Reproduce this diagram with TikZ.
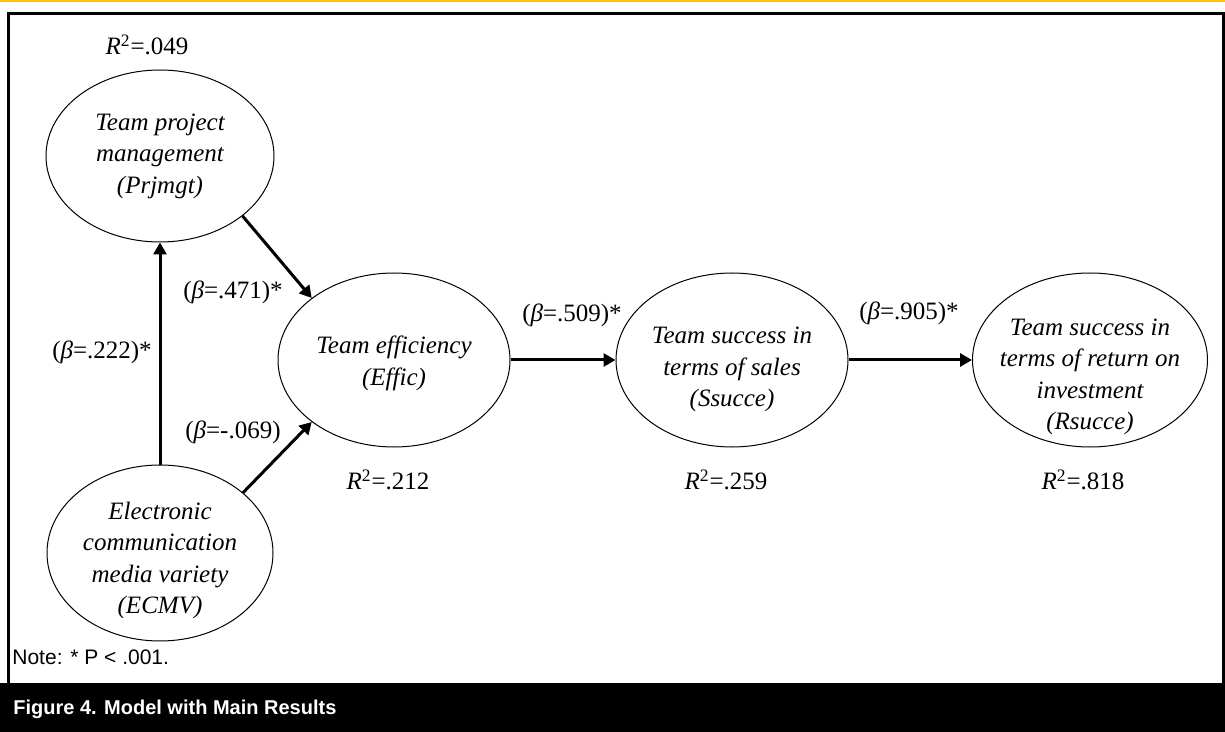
\documentclass[tikz,border=0pt]{standalone}
\usepackage{fontspec}
\setmainfont{Liberation Serif}
\setsansfont{Liberation Sans}
\usetikzlibrary{shapes.geometric,arrows.meta}
\definecolor{topline}{RGB}{255,196,0}
\begin{document}
\begin{tikzpicture}[x=0.5pt,y=-0.5pt,
  construct/.style={ellipse, draw, line width=0.5pt, inner sep=0pt, align=center, font=\fontsize{12.5}{15.75}\selectfont\itshape},
  coef/.style={font=\fontsize{12.5}{15}\selectfont, inner sep=0pt},
  path/.style={line width=1.5pt, -{Triangle[length=6pt,width=6.5pt]}}]
\useasboundingbox (0,0) rectangle (1225,732);
\fill[topline] (0,0) rectangle (1225,2);
\draw[line width=1.5pt] (8,14) rectangle (1223,690);
\fill[black] (0,683) rectangle (1225,732);
\node[construct, minimum width=114pt, minimum height=86pt] (prj) at (160,156) {Team project\\management\\(Prjmgt)};
\node[construct, minimum width=113pt, minimum height=88pt] (ecmv) at (160,553) {\raisebox{-6.5pt}[0pt][0pt]{\begin{tabular}{@{}c@{}}Electronic\\communication\\media variety\\(ECMV)\end{tabular}}};
\node[construct, minimum width=116pt, minimum height=87pt] (effic) at (394,360) {\raisebox{-4.5pt}[0pt][0pt]{\begin{tabular}{@{}c@{}}Team efficiency\\(Effic)\end{tabular}}};
\node[construct, minimum width=116pt, minimum height=87pt] (ssucc) at (732,360) {\raisebox{-7.5pt}[0pt][0pt]{\begin{tabular}{@{}c@{}}Team success in\\terms of sales\\(Ssucce)\end{tabular}}};
\node[construct, minimum width=117.5pt, minimum height=87pt, inner xsep=-5pt] (rsucc) at (1090,360) {\raisebox{-11pt}[0pt][0pt]{\begin{tabular}{@{}c@{}}Team success in\\terms of return on\\investment\\(Rsucce)\end{tabular}}};
\node[coef] (r049) at (147,45) {\textit{R}\textsuperscript{2}=.049};
\node[coef] (r212) at (388,480) {\textit{R}\textsuperscript{2}=.212};
\node[coef] (r259) at (726,480) {\textit{R}\textsuperscript{2}=.259};
\node[coef] (r818) at (1083,480) {\textit{R}\textsuperscript{2}=.818};
\node[coef] (b471) at (233,292) {(\textit{β}=.471)*};
\node[coef] (b222) at (102,352) {(\textit{β}=.222)*};
\node[coef] (b069) at (233,432) {(\textit{β}=-.069)};
\node[coef] (b509) at (572,315) {(\textit{β}=.509)*};
\node[coef] (b905) at (909,313) {(\textit{β}=.905)*};
\draw[path] (ecmv) -- (prj);
\draw[path] (prj.-36) -- (effic.143);
\draw[path] (ecmv.36) -- (effic.217);
\draw[path] (effic) -- (ssucc);
\draw[path] (ssucc) -- (rsucc);
\node[anchor=west, inner sep=0pt, font=\sffamily\fontsize{10.5}{12}\selectfont] (note) at (12,657) {Note: * P < .001.};
\node[anchor=west, inner sep=0pt, text=white, font=\sffamily\bfseries\fontsize{10}{12}\selectfont] (caption) at (13,709) {Figure 4. Model with Main Results};
\end{tikzpicture}
\end{document}
